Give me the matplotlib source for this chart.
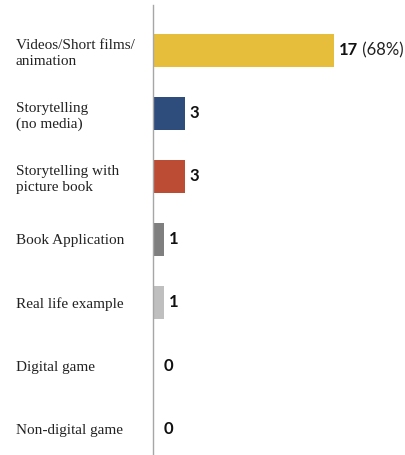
import matplotlib.pyplot as plt
import numpy as np

categories = ['Videos/Short films/\nanimation', 'Storytelling\n(no media)',
              'Storytelling with\npicture book', 'Book Application',
              'Real life example', 'Digital game', 'Non-digital game']
counts = [17, 3, 3, 1, 1, 0, 0]
share = {0: '(68%)'}
colors = ['#E6BE3C', '#2E4C7C', '#BD4C35', '#7F7F7F', '#BFBFBF', '#BFBFBF', '#BFBFBF']

fig = plt.figure(figsize=(4.06, 4.55), dpi=100)
ax = fig.add_axes([153 / 406, 0, 253 / 406, 450 / 455])

y = np.arange(len(categories))
ax.barh(y, counts, height=0.52, color=colors)

ax.set_xlim(0, 23.76)
ax.set_ylim(6.42, -0.72)

ax.set_yticks(y, categories, family='Liberation Serif', fontsize=11, color='#222222')
for lab in ax.get_yticklabels():
    lab.set_ha('left')
    lab.set_multialignment('left')
    lab.set_linespacing(1.3)
ax.tick_params(axis='y', length=0, pad=137 * 0.72)
ax.set_xticks([])

for s in ['top', 'right', 'bottom']:
    ax.spines[s].set_visible(False)
ax.spines['left'].set_color('#A6A6A6')
ax.spines['left'].set_linewidth(1.0)

for i, v in enumerate(counts):
    off = 3.5 if v > 0 else 7.5
    t = ax.annotate(str(v), xy=(v, i), xytext=(off, 0), textcoords='offset points',
                    va='center', ha='left', family='Lato', fontweight='bold',
                    fontsize=12, color='#111111')
    if i in share:
        ax.annotate(' ' + share[i], xy=(1, 0.5), xycoords=t, va='center', ha='left',
                    family='Lato', fontsize=12, color='#222222')

fig.savefig('out.png', dpi=100)
